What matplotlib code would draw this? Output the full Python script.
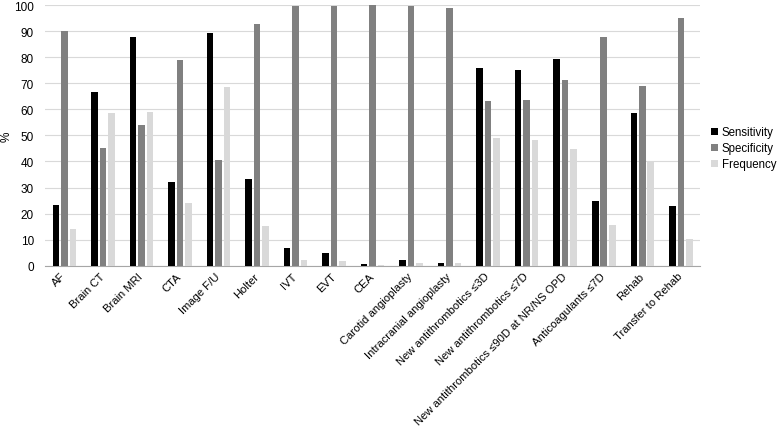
import numpy as np
import matplotlib
matplotlib.use("Agg")
import matplotlib.pyplot as plt

plt.rcParams['font.family'] = ['Liberation Sans', 'DejaVu Sans']

# Data
categories = ["AF", "Brain CT", "Brain MRI", "CTA", "Image F/U", "Holter", "IVT", "EVT",
              "CEA", "Carotid angioplasty", "Intracranial angioplasty",
              "New antithrombotics \u22643D", "New antithrombotics \u22647D",
              "New antithrombotics \u226490D at NR/NS OPD", "Anticoagulants \u22647D",
              "Rehab", "Transfer to Rehab"]
sensitivity = [23.4, 66.7, 87.6, 32.3, 89.3, 33.4, 6.9, 5.0, 0.6, 2.1, 1.2,
               75.9, 75.0, 79.3, 25.0, 58.7, 22.8]
specificity = [90.0, 45.0, 54.0, 78.9, 40.5, 92.7, 99.6, 99.5, 100.0, 99.5, 99.0,
               63.3, 63.6, 71.3, 87.9, 69.0, 95.0]
frequency = [14.0, 58.5, 59.0, 24.2, 68.7, 15.2, 2.4, 1.9, 0.2, 1.2, 1.2,
             48.9, 48.4, 44.7, 15.8, 39.7, 10.4]
series_names = ["Sensitivity", "Specificity", "Frequency"]
colors = ["#000000", "#808080", "#d9d9d9"]

fig = plt.figure(figsize=(7.77, 4.31), dpi=100)
ax = fig.add_axes([0.058, 0.381, 0.843, 0.605])

x = np.arange(len(categories))
width = 0.17
step = 0.22
for i, (vals, name) in enumerate(zip([sensitivity, specificity, frequency], series_names)):
    ax.bar(x + (i - 1) * step, vals, width, color=colors[i], label=name, zorder=3)

ax.set_xlim(-0.5, len(categories) - 0.5)
ax.set_ylim(0, 100)
ax.set_yticks(np.arange(0, 101, 10))
ax.yaxis.grid(True, color="#d9d9d9", linewidth=0.8, zorder=0)
ax.tick_params(axis="y", length=0, labelsize=8.5, pad=8)
ax.tick_params(axis="x", length=0, labelsize=8.1, pad=6)
ax.set_xticks(x)
ax.set_xticklabels(categories, rotation=45, ha="right", va="center", rotation_mode="anchor")
for s in ["top", "right", "left"]:
    ax.spines[s].set_visible(False)
ax.spines["bottom"].set_color("#a6a6a6")
ax.set_ylabel("%", fontsize=8.5)
ax.yaxis.set_label_coords(-0.05, 0.5)

ax.legend(loc="center left", bbox_to_anchor=(1.01, 0.45), frameon=False, fontsize=8.3,
          borderaxespad=0, handlelength=0.6, handleheight=0.6, handletextpad=0.3,
          labelspacing=0.35)

fig.savefig("out.png", dpi=100)
